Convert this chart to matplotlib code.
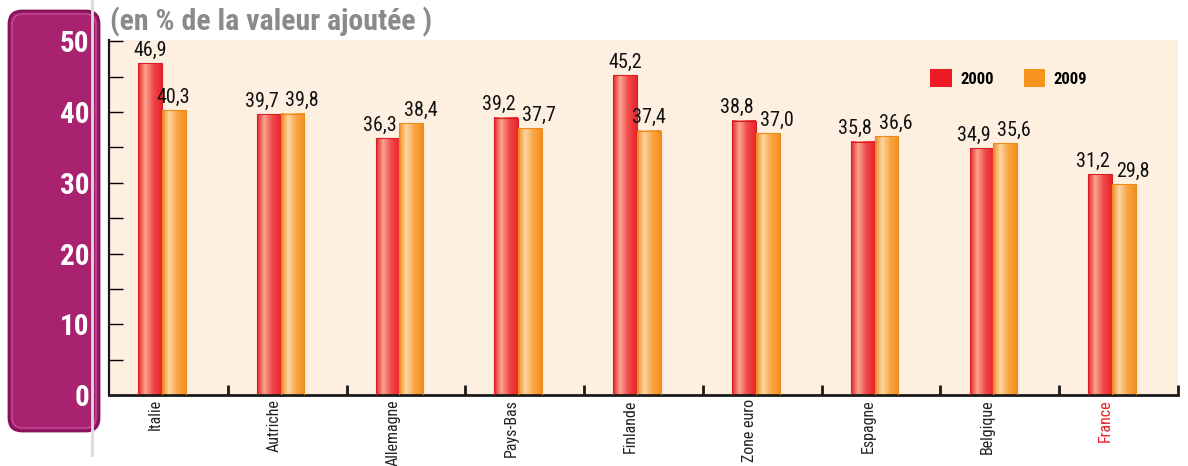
import numpy as np
import matplotlib
matplotlib.use("Agg")
import matplotlib.pyplot as plt
from matplotlib.colors import LinearSegmentedColormap
from matplotlib.patches import FancyBboxPatch, Rectangle, Patch

countries = ["Italie", "Autriche", "Allemagne", "Pays-Bas", "Finlande",
             "Zone euro", "Espagne", "Belgique", "France"]
v2000 = [46.9, 39.7, 36.3, 39.2, 45.2, 38.8, 35.8, 34.9, 31.2]
v2009 = [40.3, 39.8, 38.4, 37.7, 37.4, 37.0, 36.6, 35.6, 29.8]
yticks = [0, 10, 20, 30, 40, 50]

FONT = "Roboto Condensed"
RED = "#ED1C24"
ORANGE = "#F7941D"

red_cmap = LinearSegmentedColormap.from_list(
    "r", [(0, "#E2262B"), (0.3, "#F9A58F"), (0.65, "#F0474A"), (1, "#E8262B")])
orange_cmap = LinearSegmentedColormap.from_list(
    "o", [(0, "#F38B22"), (0.3, "#FDD6A2"), (0.65, "#F9A444"), (1, "#F4901F")])

W, H = 1188, 466
fig = plt.figure(figsize=(W / 100, H / 100), dpi=100, facecolor="white")

# background layer in pixel coordinates
bg = fig.add_axes([0, 0, 1, 1], zorder=0)
bg.set_xlim(0, W)
bg.set_ylim(H, 0)
bg.axis("off")
bg.plot([92, 92], [0, 455], color="#DCDCDC", lw=2)
bg.add_patch(FancyBboxPatch((9, 11), 90, 420, boxstyle="round,pad=0,rounding_size=13",
                            fc="#A82270", ec="#86135C", lw=2))
bg.add_patch(FancyBboxPatch((12, 14), 84, 414, boxstyle="round,pad=0,rounding_size=11",
                            fc="none", ec="#C9569A", lw=0.8))
bg.text(110, 22, "(en % de la valeur ajoutée )", fontsize=21.5, fontweight="bold",
        color="#8A8A8A", family=FONT, va="center", ha="left")

ax = fig.add_axes([109 / W, 71 / H, 1069 / W, 355 / H], zorder=1)
ax.set_facecolor("#FDF0E1")

bw = 0.2
shift = -0.055
x = np.arange(len(countries))
grad = np.linspace(0, 1, 64).reshape(1, -1)
for xi, a, b in zip(x, v2000, v2009):
    c = xi + shift
    close = abs(a - b) < 4
    for x0, val, cm, ec, side in [(c - bw, a, red_cmap, "#D81E25", "r"),
                                  (c, b, orange_cmap, "#EE8A1A", "o")]:
        ax.imshow(grad, cmap=cm, extent=[x0, x0 + bw, 0, val], aspect="auto",
                  zorder=2, interpolation="bilinear")
        ax.add_patch(Rectangle((x0, 0), bw, val, fill=False, ec=ec, lw=0.8, zorder=3))
        if not close:
            tx, ha = x0 + bw / 2, "center"
        elif side == "r":
            tx, ha = x0 + bw - 0.02, "right"
        else:
            tx, ha = x0 + 0.035, "left"
        ax.text(tx, val + 0.5, f"{val:.1f}".replace(".", ","),
                ha=ha, va="bottom", fontsize=14.5, family=FONT, color="#111111")

ax.set_xlim(-0.5, len(countries) - 0.5)
ax.set_ylim(0, 50.2)

for s in ["top", "right"]:
    ax.spines[s].set_visible(False)
ax.spines["left"].set_linewidth(1.6)
ax.spines["bottom"].set_linewidth(2)
ax.spines["left"].set_color("#1a1a1a")
ax.spines["bottom"].set_color("#1a1a1a")

ax.set_yticks(np.arange(0, 51, 5))
ax.set_yticklabels([str(v) if v in yticks else "" for v in np.arange(0, 51, 5)])
ax.tick_params(axis="y", direction="in", length=10, width=1, pad=14,
               labelsize=21, labelcolor="white")
for t in ax.get_yticklabels():
    t.set_fontweight("bold")
    t.set_family(FONT)

ax.set_xticks(x - 0.11)
ax.set_xticklabels(countries, rotation=90, fontsize=11.5, family=FONT, color="#222222")
ax.tick_params(axis="x", length=0, pad=3)
ax.get_xticklabels()[-1].set_color(RED)
ax.set_xticks(np.arange(0.5, len(countries), 1), minor=True)
ax.tick_params(axis="x", which="minor", direction="in", length=7, width=2, color="#1a1a1a")

handles = [Patch(fc=RED, ec="none", label="2000"), Patch(fc=ORANGE, ec="none", label="2009")]
leg = ax.legend(handles=handles, loc="upper left", bbox_to_anchor=(0.754, 0.96), ncol=2,
                frameon=False, handlelength=1.3, handleheight=1.3, columnspacing=1.8,
                handletextpad=0.5, prop={"family": FONT, "weight": "bold", "size": 12})

fig.savefig("out.png", dpi=100, facecolor="white")
